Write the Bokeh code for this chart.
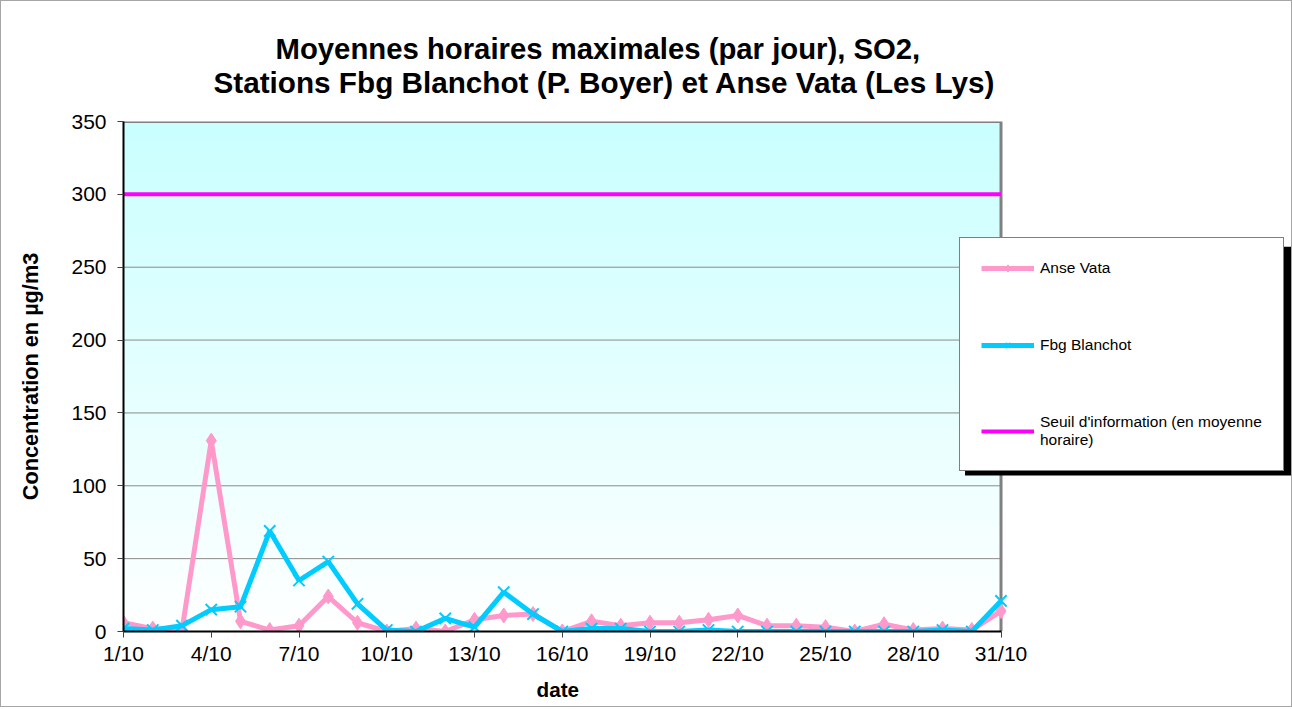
import numpy as np
from bokeh.plotting import figure
from bokeh.models import (Range1d, FixedTicker, Legend, LegendItem, Title,
                          BoxAnnotation)
from bokeh.embed import file_html
from bokeh.resources import INLINE

# ---------------- data ----------------
days = list(range(1, 32))
x_tick_days = [1, 4, 7, 10, 13, 16, 19, 22, 25, 28, 31]
x_tick_labels = ["1/10", "4/10", "7/10", "10/10", "13/10", "16/10",
                 "19/10", "22/10", "25/10", "28/10", "31/10"]
y_ticks = [0, 50, 100, 150, 200, 250, 300, 350]

anse_vata = [6, 2, 1, 131, 7, 1, 4, 24, 6, 0, 2, 0, 8, 11, 12, 0,
             7, 4, 6, 6, 8, 11, 4, 4, 3, 0, 5, 1, 2, 1, 14]
fbg_blanchot = [2, 1, 4, 15, 17, 69, 35, 48, 19, 1, 0, 9, 3, 27, 12, 0,
                2, 2, 0, 0, 1, 0, 0, 0, 0, 0, 0, 0, 1, 0, 21]
seuil = 300

title_lines = ["Moyennes horaires maximales (par jour), SO2,",
               "Stations Fbg Blanchot (P. Boyer) et Anse Vata (Les Lys)"]
x_label = "date"
y_label = "Concentration en µg/m3"
legend_labels = ["Anse Vata", "Fbg Blanchot",
                 "Seuil d'information (en moyenne\nhoraire)"]

PINK = "#FF99CC"
CYAN = "#00CCFF"
MAGENTA = "#FF00FF"
FONT = "Liberation Sans"

# plot area spans days[0]..days[-1]; the extra room on the right hosts the legend
x_end = days[-1] + (days[-1] - days[0]) * (1166.0 / 876.0 - 1.0)

# ---------------- figure ----------------
p = figure(width=1292, height=707, output_backend="svg", toolbar_location=None,
           title=None,
           x_range=Range1d(days[0], x_end),
           y_range=Range1d(y_ticks[0], y_ticks[-1]),
           min_border_left=122, min_border_right=2, min_border_top=120,
           min_border_bottom=75, background_fill_color="white",
           border_fill_color="white", outline_line_color=None)
p.styles = {"border": "1px solid #a6a6a6"}

# gradient background of the plot area
n = 256
grad = np.zeros((n, 1), dtype=np.uint32)
view = grad.view(dtype=np.uint8).reshape((n, 1, 4))
t = np.linspace(0.0, 1.0, n)  # row 0 = bottom
top_c = np.array([202, 255, 255])
bot_c = np.array([255, 255, 255])
for k in range(3):
    view[:, 0, k] = (bot_c[k] + (top_c[k] - bot_c[k]) * t).astype(np.uint8)
view[:, 0, 3] = 255
p.image_rgba(image=[grad], x=days[0], y=y_ticks[0],
             dw=days[-1] - days[0], dh=y_ticks[-1] - y_ticks[0], level="image")

# grid (only across the plot area)
p.xgrid.grid_line_color = None
p.ygrid.grid_line_color = None
p.segment(x0=days[0], x1=days[-1], y0=y_ticks[1:-1], y1=y_ticks[1:-1],
          line_color="#8a8a8a", line_width=1, level="underlay")

# top and right edges of the plot area
p.line(x=[days[0], days[-1], days[-1]], y=[y_ticks[-1], y_ticks[-1], y_ticks[0]],
       line_color="#808080", line_width=3, level="underlay")

# axes
p.xaxis.ticker = FixedTicker(ticks=x_tick_days)
p.xaxis.major_label_overrides = {d: l for d, l in zip(x_tick_days, x_tick_labels)}
p.xaxis.bounds = (days[0], days[-1])
p.yaxis.ticker = FixedTicker(ticks=y_ticks)
for ax in (p.xaxis[0], p.yaxis[0]):
    ax.axis_line_color = "black"
    ax.axis_line_width = 2
    ax.major_tick_line_color = "#404040"
    ax.major_tick_line_width = 1
    ax.major_tick_out = 6
    ax.major_tick_in = 0
    ax.minor_tick_line_color = None
    ax.major_label_text_font = FONT
    ax.major_label_text_font_size = "21px"
    ax.major_label_text_color = "black"
    ax.axis_label_text_font = FONT
    ax.axis_label_text_font_size = "21.7px"
    ax.axis_label_text_font_style = "bold"
    ax.axis_label_text_color = "black"
p.xaxis.major_label_standoff = 4
p.yaxis.major_label_standoff = 11
p.yaxis.axis_label = y_label
p.yaxis.axis_label_standoff = 25

# x axis title, centred under the plot area (not under the legend)
p.add_layout(Title(text=x_label, align="left", offset=413, standoff=16,
                   text_font=FONT, text_font_style="bold",
                   text_font_size="20.7px", text_color="black"), "below")

# series
r_thr = p.line(x=[days[0], days[-1]], y=[seuil, seuil], line_color=MAGENTA,
               line_width=4)
r_av_l = p.line(x=days, y=anse_vata, line_color=PINK, line_width=5)
r_av_m = p.scatter(x=days, y=anse_vata, marker="diamond", size=15,
                   fill_color=PINK, line_color=PINK)
r_fb_l = p.line(x=days, y=fbg_blanchot, line_color=CYAN, line_width=5)
r_fb_m = p.scatter(x=days, y=fbg_blanchot, marker="x", size=16,
                   line_color=CYAN, line_width=2)

# title (two lines, added nearest-first)
t2 = Title(text=title_lines[1], align="left", offset=90, standoff=45,
           text_font=FONT, text_font_style="bold", text_font_size="29.7px",
           text_color="black")
t1 = Title(text=title_lines[0], align="left", offset=152, standoff=-47,
           text_font=FONT, text_font_style="bold", text_font_size="29.3px",
           text_color="black")
p.add_layout(t2, "above")
p.add_layout(t1, "above")

# legend shadow
p.add_layout(BoxAnnotation(left=29.77, right=x_end, top=264.0, bottom=107.0,
                           fill_color="black", fill_alpha=1, line_color=None,
                           level="annotation"))

legend = Legend(items=[
    LegendItem(label=legend_labels[0], renderers=[r_av_l, r_av_m]),
    LegendItem(label=legend_labels[1], renderers=[r_fb_l, r_fb_m]),
    LegendItem(label=legend_labels[2], renderers=[r_thr]),
], location=(836, 160), orientation="vertical", padding=21, spacing=59,
    margin=0, glyph_width=53, glyph_height=18, label_height=18,
    label_standoff=6, label_text_font=FONT, label_text_font_size="15.5px",
    label_text_color="black", border_line_color="black", border_line_width=1,
    background_fill_color="white", background_fill_alpha=1.0)
p.add_layout(legend)

open("out.html", "w").write(file_html(p, INLINE))
